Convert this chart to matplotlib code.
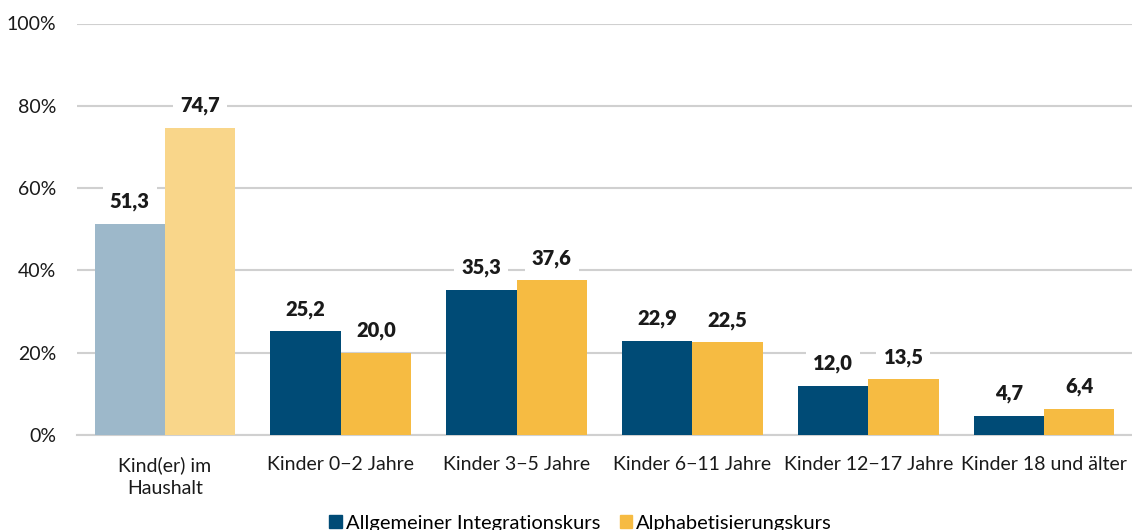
import matplotlib
matplotlib.use("Agg")
import matplotlib.pyplot as plt
import numpy as np
from matplotlib.patches import Patch

plt.rcParams['font.family'] = ['Lato', 'DejaVu Sans']

categories = ["Kind(er) im\nHaushalt", "Kinder 0\u22122 Jahre", "Kinder 3\u22125 Jahre",
              "Kinder 6\u221211 Jahre", "Kinder 12\u221217 Jahre", "Kinder 18 und älter"]
allgemein = [51.3, 25.2, 35.3, 22.9, 12.0, 4.7]
alpha = [74.7, 20.0, 37.6, 22.5, 13.5, 6.4]
series_names = ["Allgemeiner Integrationskurs", "Alphabetisierungskurs"]
yticks = [0, 20, 40, 60, 80, 100]

blue = "#004b76"
yellow = "#f6bb42"
blue_light = "#9db8ca"
yellow_light = "#f9d68a"

fig = plt.figure(figsize=(11.32, 5.30), dpi=100)
ax = fig.add_axes([77/1132, 1-435/530, (1132-77)/1132, (435-23.5)/530])

x = np.arange(len(categories))
w = 0.4
c1 = [blue_light] + [blue]*(len(categories)-1)
c2 = [yellow_light] + [yellow]*(len(categories)-1)
ax.bar(x - w/2, allgemein, w, color=c1, zorder=3)
ax.bar(x + w/2, alpha, w, color=c2, zorder=3)

def fmt(v):
    return f"{v:.1f}".replace(".", ",")

for xs, vals in ((x - w/2, allgemein), (x + w/2, alpha)):
    for xi, v in zip(xs, vals):
        ax.annotate(fmt(v), (xi, v), xytext=(0, 22), textcoords="offset pixels",
                    ha="center", va="center", fontsize=14.5, fontweight="heavy", color="#1a1a1a",
                    bbox=dict(boxstyle="square,pad=0.35", fc="white", ec="none"), zorder=4)

ax.set_xlim(-0.5, len(categories)-0.5)
ax.set_ylim(0, 100)
ax.set_yticks(yticks)
ax.set_yticklabels([f"{t}%" for t in yticks], fontsize=14, color="#1a1a1a")
ax.set_xticks(x)
ax.set_xticklabels(categories, fontsize=14, color="#1a1a1a", linespacing=1.45)
ax.tick_params(axis="both", length=0)
ax.tick_params(axis="y", pad=15)
ax.tick_params(axis="x", pad=15)
ax.grid(axis="y", color="#d0d0d0", linewidth=1.5, zorder=0)
for s in ["top", "right", "left"]:
    ax.spines[s].set_visible(False)
ax.spines["bottom"].set_color("#d0d0d0")
ax.spines["bottom"].set_linewidth(1.5)

handles = [Patch(color=blue), Patch(color=yellow)]
fig.legend(handles, series_names, loc="center", bbox_to_anchor=(0.513, 1-523/530),
           ncol=2, frameon=False, fontsize=14.5, handlelength=0.6, handleheight=0.6,
           handletextpad=0.2, columnspacing=1.0)

fig.savefig("out.png", dpi=100)
